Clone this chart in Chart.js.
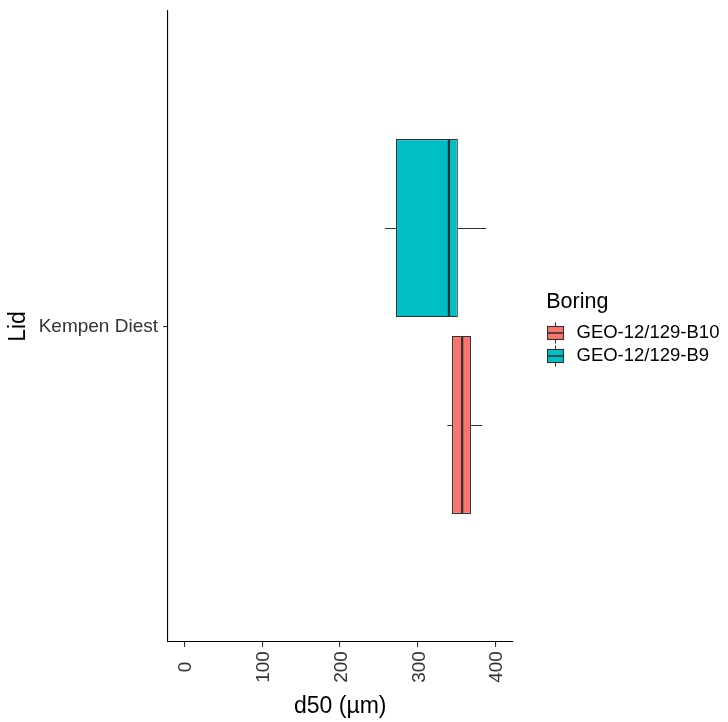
<!DOCTYPE html>
<html>
<head>
<meta charset="utf-8">
<script src="https://cdn.jsdelivr.net/npm/chart.js@4.4.1/dist/chart.umd.min.js"></script>
<style>
  html, body { margin: 0; padding: 0; background: #ffffff; overflow: hidden; }
  #wrap { width: 728px; height: 722px; }
  #chart { display: block; }
</style>
</head>
<body>
<div id="wrap"><canvas id="chart" width="728" height="722"></canvas></div>
<script>
// Lithostratigraphic unit on the y axis
const lidCategories = ['Kempen Diest'];
// Boreholes, drawn top to bottom
const boringNames = ['GEO-12/129-B9', 'GEO-12/129-B10'];
// Box summaries per borehole: lower whisker, Q1, median, Q3, upper whisker (µm)
const statsB9 = [258, 272, 340, 351.5, 388];
const statsB10 = [338, 344, 357, 368.5, 383];
const boringColors = ['#00BFC4', '#F8766D'];
// x axis
const xTickValues = [0, 100, 200, 300, 400];
const xRange = [-21, 421.8];

const FONT = '"Liberation Sans", Arial, sans-serif';
Chart.defaults.font.family = FONT;

const allStats = [statsB9, statsB10];

// Small boxplot glyph used as the legend key
function legendGlyph(fill) {
  const c = document.createElement('canvas');
  c.width = 24; c.height = 22;
  const g = c.getContext('2d');
  g.strokeStyle = '#333333';
  g.lineWidth = 1.1;
  g.beginPath(); g.moveTo(8.5, 0.5); g.lineTo(8.5, 4.5); g.moveTo(8.5, 17.5); g.lineTo(8.5, 21.5); g.stroke();
  g.fillStyle = fill;
  g.fillRect(0.5, 4.5, 16, 13);
  g.strokeRect(0.5, 4.5, 16, 13);
  g.lineWidth = 1.6;
  g.beginPath(); g.moveTo(0.5, 11); g.lineTo(16.5, 11); g.stroke();
  return c;
}

// Whiskers and median lines on top of the floating Q1–Q3 bars
const boxWhiskers = {
  id: 'boxWhiskers',
  afterDatasetsDraw(chart) {
    const ctx = chart.ctx;
    const xs = chart.scales.x;
    chart.data.datasets.forEach((ds, i) => {
      const meta = chart.getDatasetMeta(i);
      const s = ds.stats;
      meta.data.forEach((bar) => {
        const { y, height } = bar.getProps(['y', 'height'], true);
        const yc = Math.round(y) + 0.5;
        const lo = xs.getPixelForValue(s[0]);
        const q1 = xs.getPixelForValue(s[1]);
        const md = xs.getPixelForValue(s[2]);
        const q3 = xs.getPixelForValue(s[3]);
        const hi = xs.getPixelForValue(s[4]);
        ctx.save();
        ctx.strokeStyle = '#333333';
        ctx.lineWidth = 1.1;
        ctx.beginPath();
        ctx.moveTo(lo, yc); ctx.lineTo(q1, yc);
        ctx.moveTo(q3, yc); ctx.lineTo(hi, yc);
        ctx.stroke();
        ctx.lineWidth = 2.3;
        ctx.beginPath();
        ctx.moveTo(md, y - height / 2 + 0.5);
        ctx.lineTo(md, y + height / 2 - 0.5);
        ctx.stroke();
        ctx.restore();
      });
    });
  }
};

// Vertical x tick labels, centred under each tick
const verticalXTicks = {
  id: 'verticalXTicks',
  afterDraw(chart) {
    const ctx = chart.ctx;
    const xs = chart.scales.x;
    ctx.save();
    ctx.font = '19px ' + FONT;
    ctx.fillStyle = '#333333';
    ctx.textAlign = 'center';
    ctx.textBaseline = 'middle';
    xs.ticks.forEach((t) => {
      const px = xs.getPixelForValue(t.value);
      ctx.save();
      ctx.translate(px + 1.5, xs.top + 25);
      ctx.rotate(-Math.PI / 2);
      ctx.fillText(String(t.value), 0, 0);
      ctx.restore();
    });
    ctx.restore();
  }
};

// Leave a gap between the panel and the legend; let the legend run to the canvas edge
const legendGap = {
  id: 'legendGap',
  afterLayout(chart) {
    const lg = chart.legend;
    lg.left = chart.chartArea.right + 33.7;
    lg.right = chart.width;
    lg.width = lg.right - lg.left;
  }
};

new Chart(document.getElementById('chart'), {
  type: 'bar',
  data: {
    labels: lidCategories,
    datasets: boringNames.map((name, i) => ({
      label: name,
      data: [[allStats[i][1], allStats[i][3]]],
      stats: allStats[i],
      backgroundColor: boringColors[i],
      borderColor: '#333333',
      borderWidth: 1.1,
      borderSkipped: false,
      categoryPercentage: 0.624,
      barPercentage: 0.904
    }))
  },
  options: {
    indexAxis: 'y',
    responsive: false,
    animation: false,
    events: [],
    layout: { padding: { top: 11, right: 44.6, bottom: 0, left: 0 } },
    scales: {
      x: {
        type: 'linear',
        min: xRange[0],
        max: xRange[1],
        afterBuildTicks: (s) => { s.ticks = xTickValues.map((v) => ({ value: v })); },
        ticks: { display: false },
        grid: { display: true, drawOnChartArea: false, drawTicks: true, tickLength: 5, color: '#333333', lineWidth: 1.1 },
        border: { display: true, color: '#000000', width: 1.1 },
        title: { display: true, text: 'd50 (µm)', color: '#000000', font: { size: 23 }, padding: { top: 1.2, bottom: 1.2 } },
        afterFit: (s) => { s.height = 80; s.paddingLeft = 0; s.paddingRight = 0; }
      },
      y: {
        type: 'category',
        offset: true,
        grid: { display: true, drawOnChartArea: false, drawTicks: true, tickLength: 5, offset: false, color: '#333333', lineWidth: 1.1 },
        border: { display: true, color: '#000000', width: 1.1 },
        ticks: { font: { size: 19 }, color: '#333333', padding: 5 },
        title: { display: true, text: 'Lid', color: '#000000', font: { size: 23 }, padding: { top: 5.2, bottom: 0 } },
        afterFit: (s) => { s.width = 168; s.paddingTop = 0; s.paddingBottom = 0; }
      }
    },
    plugins: {
      tooltip: { enabled: false },
      legend: {
        position: 'right',
        fullSize: false,
        align: 'center',
        title: { display: true, text: 'Boring', position: 'start', color: '#000000', font: { size: 21.5 }, padding: { top: 7.75, bottom: 2.45 } },
        labels: {
          font: { size: 18.5 },
          color: '#000000',
          padding: 4.5,
          usePointStyle: true,
          pointStyleWidth: 16.5,
          generateLabels: (chart) => chart.data.datasets.map((ds, i) => ({
            text: ds.label,
            pointStyle: legendGlyph(ds.backgroundColor),
            fillStyle: ds.backgroundColor,
            strokeStyle: '#333333',
            lineWidth: 0,
            hidden: false,
            datasetIndex: i
          })).reverse()
        }
      }
    }
  },
  plugins: [boxWhiskers, verticalXTicks, legendGap]
});
</script>
</body>
</html>
